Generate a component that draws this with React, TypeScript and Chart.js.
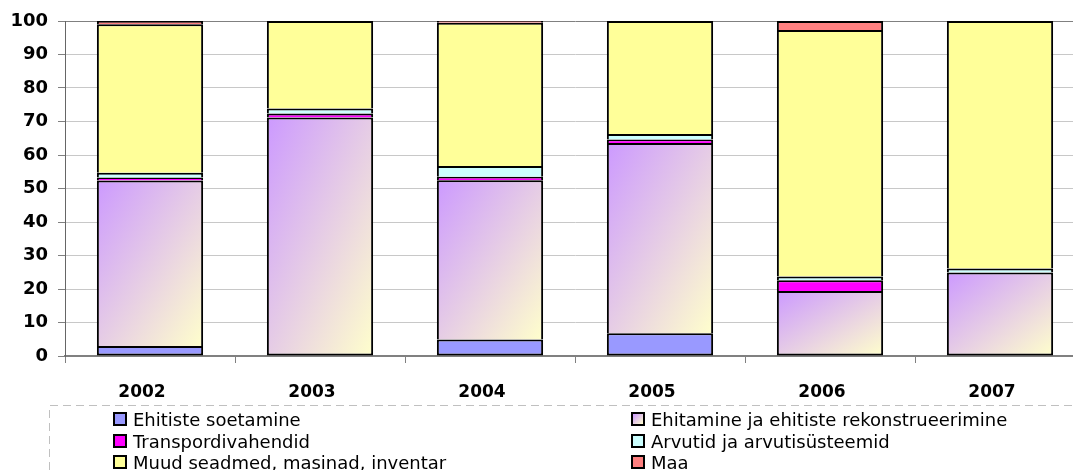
import { useEffect, useRef } from 'react';
import { Chart, registerables } from 'chart.js';
Chart.register(...registerables);

const years = ['2002', '2003', '2004', '2005', '2006', '2007'];
const soetamine = [3.0, 0, 4.9, 6.8, 0, 0];
const ehitamine = [49.4, 71.2, 47.6, 56.8, 19.4, 24.9];
const transport = [0.9, 1.2, 1.0, 1.0, 3.2, 0];
const arvutid = [1.4, 1.5, 3.2, 1.7, 1.1, 1.2];
const muud = [44.3, 26.1, 42.8, 33.7, 73.6, 73.9];
const maa = [1.0, 0, 0.5, 0, 2.7, 0];
const yTicks = [0, 10, 20, 30, 40, 50, 60, 70, 80, 90, 100];

const seriesNames = [
  'Ehitiste soetamine',
  'Ehitamine ja ehitiste rekonstrueerimine',
  'Transpordivahendid',
  'Arvutid ja arvutisüsteemid',
  'Muud seadmed, masinad, inventar',
  'Maa',
];
const seriesColors = ['#9999ff', 'gradient', '#ff00ff', '#ccffff', '#ffff99', '#ff8080'];
const allSeries = [soetamine, ehitamine, transport, arvutid, muud, maa];

const FONT = 'DejaVu Sans';

function gradientFill(ctx: any) {
  const chart = ctx.chart;
  const scales = chart.scales;
  if (!chart.chartArea || ctx.type !== 'data' || !scales || !scales.x || !scales.y) return '#cc99ff';
  const i = ctx.dataIndex;
  const start = soetamine[i];
  const end = start + ehitamine[i];
  const xs = scales.x;
  const xC = xs.getPixelForValue(i);
  const half = (xs.width / years.length) * 0.625 / 2;
  const yTop = scales.y.getPixelForValue(end);
  const yBot = scales.y.getPixelForValue(start);
  const w = half * 2;
  const h = Math.max(1, yBot - yTop);
  const k = (2 * w * h) / (w * w + h * h);
  const x0 = xC - half;
  const g = chart.ctx.createLinearGradient(x0, yTop, x0 + h * k, yTop + w * k);
  g.addColorStop(0, '#cc99ff');
  g.addColorStop(1, '#ffffcc');
  return g;
}

function skipFor(ctx: any) {
  const di = ctx.datasetIndex;
  const i = ctx.dataIndex;
  for (let k = 0; k < di; k++) if (allSeries[k][i] > 0) return 'start';
  return false;
}

export default function App() {
  const ref = useRef<HTMLCanvasElement>(null);
  useEffect(() => {
    if (!ref.current) return;
    const datasets = allSeries.map((data, idx) => ({
      label: seriesNames[idx],
      data,
      backgroundColor: seriesColors[idx] === 'gradient' ? gradientFill : seriesColors[idx],
      borderColor: '#000000',
      borderWidth: 2,
      borderSkipped: skipFor,
      categoryPercentage: 0.625,
      barPercentage: 1,
      inflateAmount: 0,
    }));
    const chart = new Chart(ref.current, {
      type: 'bar',
      data: { labels: years, datasets: datasets as any },
      options: {
        responsive: false,
        animation: false,
        layout: { padding: { top: 21, right: 5, left: 0, bottom: 0 } },
        plugins: { legend: { display: false }, tooltip: { enabled: false } },
        scales: {
          x: {
            stacked: true,
            grid: { offset: true, drawOnChartArea: false, drawTicks: true, tickLength: 7, tickColor: '#808080' },
            border: { color: '#808080', width: 2 },
            ticks: { font: { family: FONT, weight: 'bold', size: 17 }, color: '#000', padding: 19, labelOffset: -8, maxRotation: 0 },
            afterFit: (s: any) => { s.height = 44; },
          },
          y: {
            stacked: true,
            min: 0,
            max: 100,
            afterBuildTicks: (s: any) => { s.ticks = yTicks.map((v) => ({ value: v })); },
            ticks: { font: { family: FONT, weight: 'bold', size: 18 }, color: '#000', padding: 10 },
            grid: {
              color: (c: any) => (c.tick && c.tick.value === 100 ? '#808080' : '#c8c8c8'),
              tickColor: '#808080',
              tickLength: 7,
            },
            border: { color: '#666666', width: 1 },
            afterFit: (s: any) => { s.width = 65; },
          },
        },
      } as any,
    });
    return () => chart.destroy();
  }, []);

  const rows = [[0, 1], [2, 3], [4, 5]];
  const colBox = [113, 631];
  return (
    <div style={{ position: 'absolute', left: 0, top: 0, width: 1073, height: 470, overflow: 'hidden', background: '#fff' }}>
      <canvas ref={ref} width={1090} height={400} style={{ position: 'absolute', left: 0, top: 0, width: 1090, height: 400 }} />
      <svg style={{ position: 'absolute', left: 0, top: 0 }} width={1073} height={470}>
        <path d="M49.5,470 V405.5 H1073" fill="none" stroke="#c0c0c0" strokeWidth={1} strokeDasharray="8 5" />
      </svg>
      {rows.map((pair, r) =>
        pair.map((si, c) => (
          <div key={si}>
            <div
              style={{
                position: 'absolute',
                left: colBox[c],
                top: 412 + 21.5 * r,
                width: 10,
                height: 10,
                border: '2px solid #000',
                background: seriesColors[si] === 'gradient' ? 'linear-gradient(135deg, #cc99ff, #ffffcc)' : seriesColors[si],
              }}
            />
            <div
              style={{
                position: 'absolute',
                left: colBox[c] + 20,
                top: 410.2 + 21.5 * r,
                fontFamily: FONT,
                fontSize: 18,
                lineHeight: '20px',
                color: '#000',
                whiteSpace: 'nowrap',
              }}
            >
              {seriesNames[si]}
            </div>
          </div>
        ))
      )}
    </div>
  );
}
